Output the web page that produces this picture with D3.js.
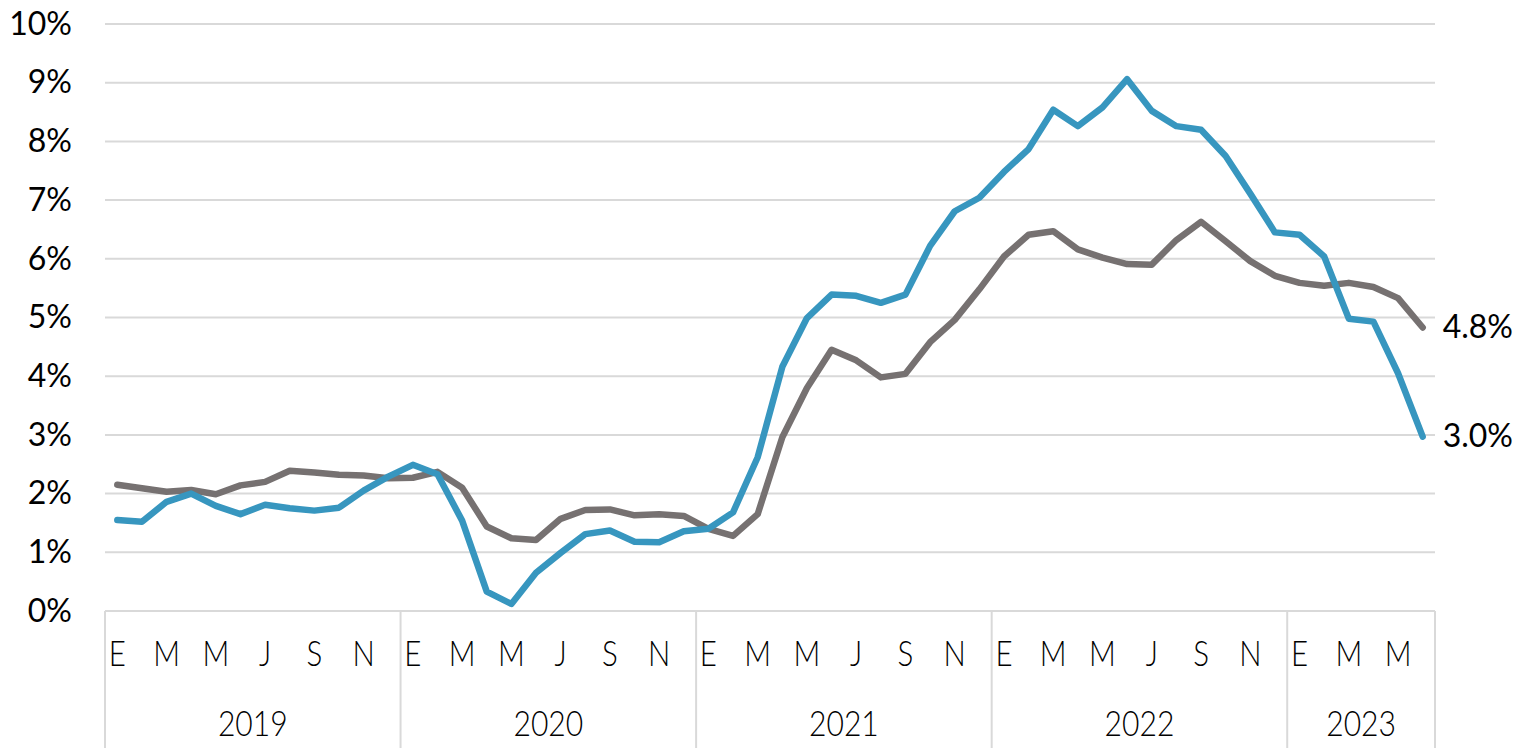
<!DOCTYPE html>
<html>
<head>
<meta charset="utf-8">
<script src="https://cdn.jsdelivr.net/npm/d3@7"></script>
<style>
  html, body { margin: 0; padding: 0; background: #fff; }
  svg { display: block; }
</style>
</head>
<body>
<svg id="chart" width="1532" height="748"></svg>
<script>
// ---- Data ----
const years = ["2019", "2020", "2021", "2022", "2023"];
const monthsPerYear = [12, 12, 12, 12, 6];
const monthTicks = ["E", "", "M", "", "M", "", "J", "", "S", "", "N", ""];

// Headline CPI, y/y %
const headline = [
  1.55, 1.52, 1.86, 2.00, 1.79, 1.65, 1.81, 1.75, 1.71, 1.76, 2.05, 2.29,
  2.49, 2.33, 1.54, 0.33, 0.12, 0.65, 0.99, 1.31, 1.37, 1.18, 1.17, 1.36,
  1.40, 1.68, 2.62, 4.16, 4.99, 5.39, 5.37, 5.25, 5.39, 6.22, 6.81, 7.04,
  7.48, 7.87, 8.54, 8.26, 8.58, 9.06, 8.52, 8.26, 8.20, 7.75, 7.11, 6.45,
  6.41, 6.04, 4.98, 4.93, 4.05, 2.97
];
// Core CPI, y/y %
const core = [
  2.15, 2.09, 2.03, 2.06, 1.99, 2.14, 2.20, 2.39, 2.36, 2.32, 2.31, 2.26,
  2.27, 2.37, 2.10, 1.44, 1.24, 1.21, 1.57, 1.72, 1.73, 1.63, 1.65, 1.62,
  1.40, 1.28, 1.65, 2.96, 3.80, 4.45, 4.27, 3.98, 4.04, 4.58, 4.96, 5.48,
  6.04, 6.41, 6.47, 6.16, 6.02, 5.91, 5.90, 6.32, 6.63, 6.30, 5.96, 5.71,
  5.59, 5.54, 5.59, 5.52, 5.33, 4.83
];
const yTicks = [0, 1, 2, 3, 4, 5, 6, 7, 8, 9, 10];
const endLabels = ["3.0%", "4.8%"];

(function () {
  // ---- Build month index ----
  const monthIdx = [];
  years.forEach((yr, yi) => {
    for (let m = 0; m < monthsPerYear[yi]; m++) monthIdx.push({ key: yr + "-" + m, year: yr, m });
  });

  // ---- Layout ----
  const mLeft = 105, mRight = 1435, mTop = 24, mBottom = 611, svgH = 748;
  const svg = d3.select("#chart");

  const x = d3.scaleBand().domain(monthIdx.map(d => d.key)).range([mLeft, mRight]).padding(0);
  const y = d3.scaleLinear().domain([0, 10]).range([mBottom, mTop]);
  const cx = k => x(k) + x.bandwidth() / 2;

  const gridColor = "#d9d9d9";
  const font = "Lato, 'Open Sans', sans-serif";

  // Gridlines
  svg.append("g").selectAll("line").data(yTicks).join("line")
    .attr("x1", mLeft).attr("x2", mRight)
    .attr("y1", d => y(d)).attr("y2", d => y(d))
    .attr("stroke", gridColor).attr("stroke-width", 2);

  // Y axis labels
  const yAxis = svg.append("g").attr("transform", `translate(${mLeft},0)`)
    .call(d3.axisLeft(y).tickValues(yTicks).tickFormat(d => d + "%").tickSize(0).tickPadding(33));
  yAxis.select(".domain").remove();
  yAxis.selectAll("text")
    .attr("font-family", font)
    .attr("font-weight", 400)
    .attr("font-size", 32)
    .attr("fill", "#000");

  // Year boundaries
  const boundaries = [mLeft];
  let acc = 0;
  monthsPerYear.forEach(n => { acc += n; boundaries.push(x(monthIdx[acc - 1].key) + x.bandwidth()); });
  svg.append("g").selectAll("line").data(boundaries).join("line")
    .attr("x1", d => d).attr("x2", d => d)
    .attr("y1", mBottom).attr("y2", svgH)
    .attr("stroke", gridColor).attr("stroke-width", 2);

  // X month labels
  const xAxis = svg.append("g").attr("transform", `translate(0,${mBottom})`)
    .call(d3.axisBottom(x).tickSize(0).tickFormat(k => monthTicks[+k.split("-")[1]]));
  xAxis.select(".domain").remove();
  xAxis.selectAll("text")
    .attr("font-family", font)
    .attr("font-weight", 300)
    .attr("font-size", 36)
    .attr("fill", "#000")
    .attr("dy", null)
    .attr("y", 0)
    .attr("dominant-baseline", "middle")
    .attr("transform", "translate(0,46) scale(0.82,1)");

  // Year labels
  const yearSpans = years.map((yr, i) => ({ yr, x0: boundaries[i], x1: boundaries[i + 1] }));
  svg.append("g").selectAll("text").data(yearSpans).join("text")
    .attr("transform", d => `translate(${(d.x0 + d.x1) / 2},727) scale(0.86,1)`)
    .attr("text-anchor", "middle")
    .attr("dominant-baseline", "middle")
    .attr("font-family", font)
    .attr("font-weight", 300)
    .attr("font-size", 35)
    .attr("fill", "#000")
    .text(d => d.yr);

  // Lines
  const line = d3.line().x((d, i) => cx(monthIdx[i].key)).y(d => y(d));
  svg.append("path").datum(core).attr("d", line)
    .attr("fill", "none").attr("stroke", "#767171").attr("stroke-width", 6.5)
    .attr("stroke-linejoin", "round").attr("stroke-linecap", "round");
  svg.append("path").datum(headline).attr("d", line)
    .attr("fill", "none").attr("stroke", "#3796bf").attr("stroke-width", 6.5)
    .attr("stroke-linejoin", "round").attr("stroke-linecap", "round");

  // End labels
  const lastKey = monthIdx[monthIdx.length - 1].key;
  const ends = [
    { v: headline[headline.length - 1], t: endLabels[0] },
    { v: core[core.length - 1], t: endLabels[1] }
  ];
  svg.append("g").selectAll("text").data(ends).join("text")
    .attr("x", cx(lastKey) + 20)
    .attr("y", d => y(d.v) + 2)
    .attr("dominant-baseline", "middle")
    .attr("font-family", font)
    .attr("font-weight", 400)
    .attr("font-size", 32)
    .attr("fill", "#000")
    .text(d => d.t);
})();
</script>
</body>
</html>
